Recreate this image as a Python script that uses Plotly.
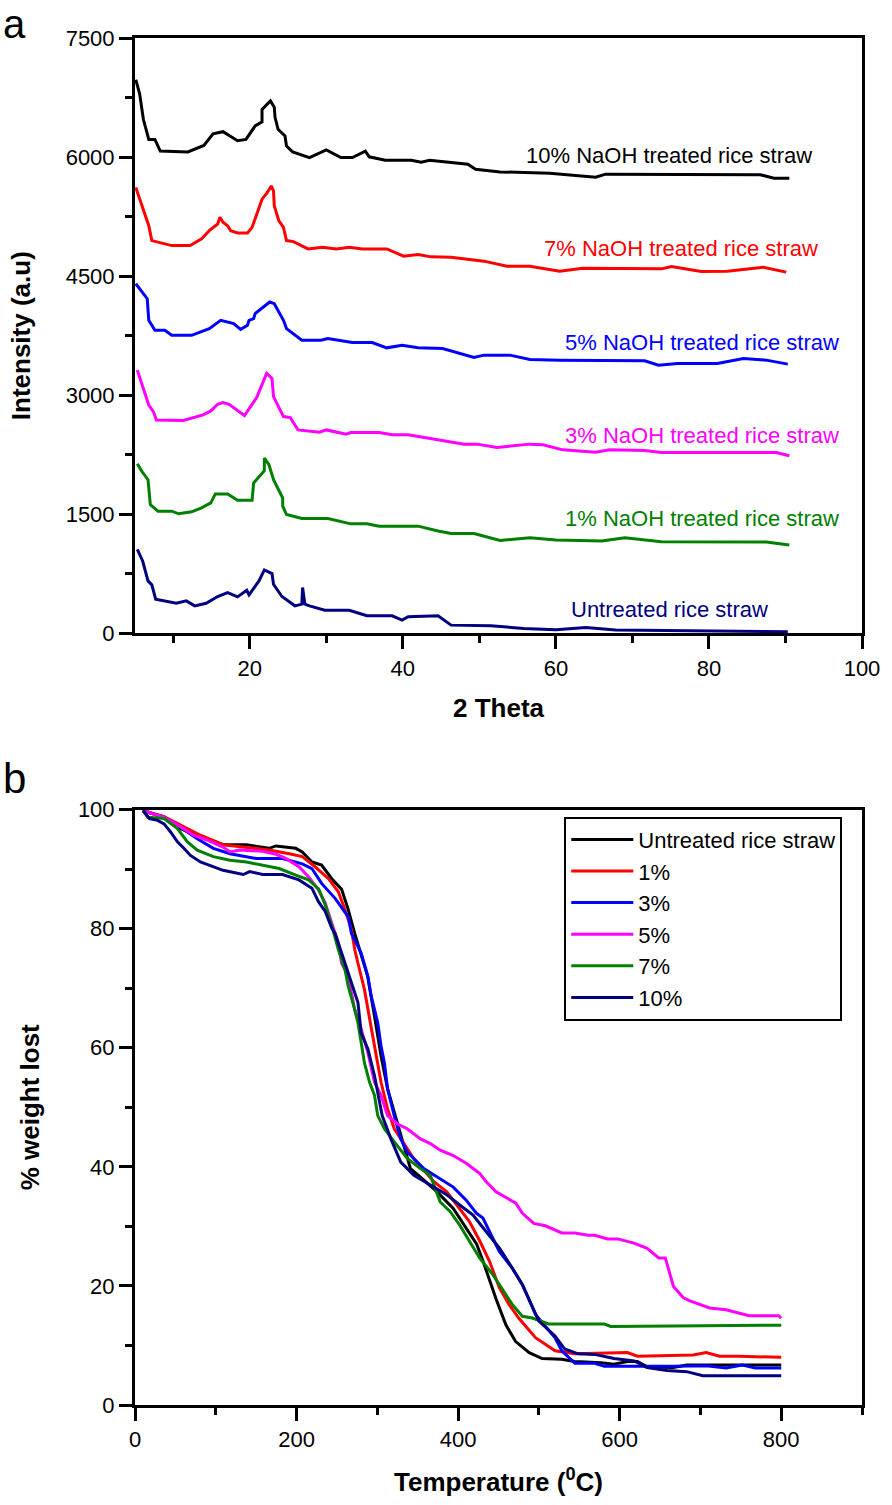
import plotly.graph_objects as go

# ---------------- Panel a: XRD ----------------
xrd_10_x = [5.1, 5.6, 6.1, 6.8, 7.6, 8.3, 11.9, 14.0, 15.2, 16.5, 18.4, 19.5, 20.7, 21.6, 21.6, 22.7, 23.2, 23.3, 23.7, 24.6, 24.8, 25.6, 27.8, 30.0, 31.9, 33.4, 35.1, 35.6, 37.7, 41.1, 42.4, 43.5, 48.5, 49.5, 52.7, 59.2, 65.2, 66.5, 86.7, 88.5, 90.5]
xrd_10_y = [6975, 6800, 6473, 6222, 6222, 6075, 6065, 6146, 6292, 6320, 6205, 6222, 6392, 6443, 6600, 6706, 6627, 6500, 6350, 6265, 6140, 6065, 5994, 6090, 5994, 5994, 6075, 6003, 5960, 5960, 5935, 5960, 5910, 5847, 5813, 5797, 5747, 5785, 5778, 5734, 5734]

xrd_7_x = [5.1, 5.9, 6.8, 7.2, 9.8, 12.2, 13.7, 14.7, 15.8, 16.1, 16.5, 17.1, 17.5, 18.4, 19.7, 20.3, 21.0, 21.6, 22.3, 22.8, 23.1, 23.2, 23.8, 24.4, 24.8, 25.7, 27.6, 29.5, 31.3, 33.0, 34.7, 37.9, 40.1, 42.0, 43.7, 46.3, 50.6, 53.6, 56.6, 60.5, 63.5, 73.8, 75.1, 79.0, 82.4, 87.1, 90.1]
xrd_7_y = [5617, 5386, 5136, 4948, 4885, 4885, 4969, 5073, 5157, 5241, 5178, 5136, 5073, 5044, 5044, 5115, 5304, 5470, 5554, 5637, 5575, 5386, 5198, 5115, 4948, 4935, 4843, 4864, 4843, 4864, 4843, 4843, 4752, 4772, 4743, 4739, 4689, 4626, 4626, 4563, 4601, 4592, 4621, 4558, 4563, 4613, 4551]

xrd_5_x = [5.1, 6.6, 6.8, 7.6, 8.9, 9.8, 12.4, 14.7, 16.2, 17.9, 18.8, 19.7, 19.9, 20.5, 20.7, 21.8, 22.6, 23.2, 24.4, 24.8, 26.8, 29.3, 30.2, 33.4, 36.0, 37.9, 39.9, 42.0, 45.2, 49.3, 50.6, 54.0, 56.6, 60.5, 71.6, 73.4, 75.9, 81.1, 84.5, 87.5, 90.3]
xrd_5_y = [4404, 4216, 3944, 3818, 3818, 3755, 3755, 3839, 3944, 3902, 3830, 3881, 3944, 3965, 4028, 4111, 4174, 4153, 3944, 3839, 3693, 3693, 3714, 3664, 3664, 3597, 3630, 3597, 3589, 3476, 3505, 3505, 3450, 3442, 3434, 3379, 3400, 3400, 3463, 3442, 3392]

xrd_3_x = [5.3, 6.8, 7.4, 7.8, 11.3, 13.9, 14.9, 15.8, 16.5, 17.3, 19.3, 20.9, 22.2, 22.9, 23.1, 24.4, 25.3, 26.3, 29.1, 30.0, 32.6, 33.2, 36.9, 38.6, 40.7, 42.7, 45.0, 48.0, 49.7, 52.3, 56.6, 58.3, 60.9, 65.2, 67.0, 71.6, 73.8, 88.8, 90.5]
xrd_3_y = [3316, 2877, 2794, 2689, 2681, 2752, 2802, 2886, 2907, 2886, 2744, 2970, 3275, 3212, 2982, 2731, 2718, 2563, 2534, 2563, 2509, 2530, 2530, 2501, 2501, 2468, 2438, 2384, 2384, 2342, 2384, 2375, 2312, 2283, 2312, 2304, 2279, 2279, 2237]

xrd_1_x = [5.3, 5.9, 6.7, 7.0, 8.0, 9.8, 10.7, 12.4, 13.7, 14.9, 15.5, 17.1, 18.4, 20.3, 20.5, 21.9, 21.9, 22.5, 23.1, 23.8, 24.3, 24.3, 24.8, 26.8, 30.2, 33.2, 35.3, 36.9, 42.0, 44.6, 46.3, 49.3, 52.7, 56.6, 60.0, 66.0, 69.0, 73.8, 87.5, 90.5]
xrd_1_y = [2137, 2041, 1936, 1622, 1539, 1539, 1506, 1531, 1581, 1644, 1757, 1757, 1677, 1677, 1895, 2049, 2208, 2124, 1936, 1790, 1706, 1602, 1497, 1447, 1447, 1380, 1380, 1351, 1351, 1289, 1259, 1259, 1171, 1205, 1176, 1163, 1205, 1154, 1150, 1113]

xrd_u_x = [5.3, 6.0, 6.7, 7.2, 7.7, 10.4, 11.7, 12.8, 14.3, 15.8, 17.1, 18.4, 19.6, 19.9, 21.2, 21.9, 22.9, 23.1, 24.2, 25.9, 26.8, 26.9, 27.2, 27.8, 29.8, 33.0, 35.3, 38.6, 39.9, 40.7, 44.6, 46.3, 51.5, 55.8, 60.0, 63.9, 67.8, 90.3]
xrd_u_y = [1058, 912, 661, 611, 430, 380, 410, 347, 380, 464, 514, 460, 543, 485, 661, 799, 753, 619, 464, 347, 368, 577, 368, 347, 292, 292, 222, 222, 167, 209, 222, 104, 96, 63, 46, 75, 42, 21]

xrd_labels = ["10% NaOH treated rice straw", "7% NaOH treated rice straw", "5% NaOH treated rice straw",
              "3% NaOH treated rice straw", "1% NaOH treated rice straw", "Untreated rice straw"]
xrd_label_x = [74.8, 76.4, 79.1, 79.1, 79.1, 74.9]
xrd_label_y = [6023, 4843, 3664, 2497, 1443, 305]
xrd_colors = ["#000000", "#FF0000", "#0000FF", "#FF00FF", "#008000", "#000080"]

# ---------------- Panel b: TGA ----------------
tga_u_t = [10, 36, 56.5, 81, 93, 109, 138, 166, 174.5, 199, 207, 219, 231, 243.6, 255.8, 264, 272, 288, 296.5, 304.6, 312.7, 321, 341, 353, 374, 394, 410, 423, 431, 439, 447, 459, 471, 488, 504, 528, 544.6, 577, 593, 609.6, 622, 634, 666.6, 683, 800]
tga_u_w = [99.8, 98.8, 96.8, 95.4, 94.9, 94.1, 94.1, 93.5, 93.9, 93.5, 92.9, 91.2, 90.7, 88.4, 86.6, 83.2, 79.2, 72, 65.3, 58.6, 53.1, 49.2, 39.7, 38.3, 35.8, 33, 29.7, 27, 24.1, 20.8, 17.8, 13.5, 10.7, 8.8, 7.8, 7.7, 7.3, 7.1, 6.85, 7.3, 7.3, 6.4, 6.3, 6.7, 6.7]

tga_1_t = [10, 36, 56.5, 81, 109, 134, 166, 191, 207, 223, 239.5, 251.7, 260, 268, 272, 276, 284, 292, 300.5, 304.6, 312.7, 321, 345, 370, 386, 402, 414, 427, 439, 451, 463, 475, 495.8, 520, 544.6, 609.6, 622, 691, 707, 723.6, 748, 800]
tga_1_w = [99.8, 98.8, 97.4, 95.7, 94.1, 93.7, 93.2, 92.6, 92.1, 90.4, 88.4, 86.2, 83.2, 79.8, 76.5, 74.2, 69.8, 63.7, 57.5, 54.2, 49.7, 46.4, 41.4, 37.5, 35.8, 33, 30.8, 27.5, 24.1, 19.7, 16.9, 14.6, 11.3, 9.1, 8.6, 8.8, 8.2, 8.4, 8.8, 8.2, 8.2, 8.0]

tga_3_t = [10, 36, 52.5, 77, 97, 117.5, 150, 182.6, 207, 219, 231, 247.7, 264, 268, 280, 288.3, 292.4, 300.5, 304.6, 308.7, 312.7, 321, 329, 337, 357.5, 377.8, 394, 410, 422.6, 430.7, 438.8, 451, 467, 479.6, 495.8, 520, 528.4, 544.6, 569, 581, 666.6, 707, 731.7, 752, 768, 800]
tga_3_w = [99.8, 98.7, 97.4, 95.1, 93.5, 92.6, 91.8, 91.8, 90.9, 90.1, 87.6, 85.1, 82, 79.2, 75.9, 72, 68.7, 64.2, 60.3, 57.5, 53.1, 48.5, 44.7, 42.5, 39.7, 38, 36.6, 34.4, 32.2, 31.4, 29.1, 25.8, 23, 20.2, 15.2, 11.3, 9.1, 7, 7, 6.5, 6.5, 6.6, 6.2, 6.7, 6.2, 6.2]

tga_5_t = [10, 36, 56.5, 72.7, 89, 109, 117.5, 129.7, 158, 174.5, 186.7, 203, 215, 227.3, 235.5, 243.6, 251.7, 255.8, 264, 272, 280, 288.3, 296.5, 304.6, 312.7, 325, 337, 353.4, 365.6, 377.8, 394, 410, 426.6, 434.8, 447, 471.5, 479.6, 493.7, 508, 528.4, 544.6, 560.8, 569, 585, 597.5, 617.8, 634, 648.3, 656.5, 666.6, 678.8, 687, 711.4, 731.7, 760.2, 796.8, 800]
tga_5_w = [99.8, 98.7, 97.1, 95.7, 94.9, 93.7, 92.9, 93.2, 93, 92.5, 91.8, 90.4, 88.7, 86.5, 84.3, 80.8, 77.6, 74.2, 72, 66.4, 63.1, 59.2, 54.2, 52, 48.6, 47.2, 46.4, 44.7, 43.9, 42.8, 41.9, 40.6, 38.9, 37.5, 35.8, 33.9, 32.2, 30.5, 30.1, 28.9, 28.9, 28.5, 28.5, 27.9, 27.9, 27.2, 26.3, 24.7, 24.7, 19.9, 18, 17.5, 16.3, 16, 15, 15, 14.6]

tga_7_t = [10, 15.9, 36, 52.5, 64.7, 77, 97, 117.5, 138, 158, 178.5, 199, 215, 227.3, 235.5, 243.6, 251.7, 260, 264, 272, 276, 280, 284, 290.4, 296.5, 300.5, 308.7, 321, 337, 353.4, 365.6, 377.8, 390, 402, 414.4, 426.6, 443, 455, 467, 479.6, 491.8, 512, 581, 589, 800]
tga_7_w = [100, 98.7, 98.5, 96.8, 94.6, 93.2, 92.1, 91.5, 91.2, 90.7, 90.1, 89, 88.2, 86.7, 84, 80.5, 76.5, 73.1, 70.3, 66.4, 64.2, 60.9, 57.5, 54.2, 52, 48.6, 46.4, 44.2, 41.4, 39.7, 38.6, 34.1, 32.5, 30.2, 27.5, 24.7, 21.9, 19.4, 16.9, 14.9, 14.6, 13.6, 13.6, 13.2, 13.4]

tga_10_t = [10, 17.8, 28, 36, 44.3, 52.5, 60.5, 68.7, 81, 97, 109, 134, 142, 158, 182.6, 203, 219, 227.3, 235.5, 243.6, 247.7, 260, 268, 276, 280, 288.3, 296.5, 306, 316.8, 329, 345.3, 365.6, 386, 402, 418.5, 434.8, 451, 467, 479.6, 500, 520, 532, 548.6, 569, 593, 618, 634, 658.5, 683, 703, 800]
tga_10_w = [99.8, 98.5, 98.2, 97.6, 96.2, 94.6, 93.5, 92.3, 91.2, 90.4, 89.8, 89.1, 89.6, 89.1, 89.1, 88.2, 86.8, 84.5, 82.9, 80.1, 79.2, 74.2, 70.9, 67.6, 62.5, 59.8, 55.3, 48.6, 44.7, 40.8, 38.6, 36.9, 35.3, 33.6, 31.9, 29.1, 26.4, 23, 20.2, 14.1, 11.6, 9.4, 8.6, 8.5, 7.8, 7.4, 6.3, 5.8, 5.6, 4.9, 4.9]

tga_names = ["Untreated rice straw", "1%", "3%", "5%", "7%", "10%"]
tga_colors = ["#000000", "#FF0000", "#0000FF", "#FF00FF", "#008000", "#000080"]

FONT = "Liberation Sans, Arial, sans-serif"
LW = 3

fig = go.Figure()

xrd_series = [(xrd_10_x, xrd_10_y), (xrd_7_x, xrd_7_y), (xrd_5_x, xrd_5_y),
              (xrd_3_x, xrd_3_y), (xrd_1_x, xrd_1_y), (xrd_u_x, xrd_u_y)]
for (xs, ys), c, name in zip(xrd_series, xrd_colors, xrd_labels):
    fig.add_trace(go.Scatter(x=xs, y=ys, mode="lines", line=dict(color=c, width=LW),
                             name=name, showlegend=False, xaxis="x", yaxis="y"))

tga_series = [(tga_u_t, tga_u_w), (tga_1_t, tga_1_w), (tga_3_t, tga_3_w),
              (tga_5_t, tga_5_w), (tga_7_t, tga_7_w), (tga_10_t, tga_10_w)]
for (xs, ys), c, name in zip(tga_series, tga_colors, tga_names):
    fig.add_trace(go.Scatter(x=xs, y=ys, mode="lines", line=dict(color=c, width=LW),
                             name=name, xaxis="x2", yaxis="y2"))

annotations = []
for t, x, y, c in zip(xrd_labels, xrd_label_x, xrd_label_y, xrd_colors):
    annotations.append(dict(text=t, x=x, y=y, xref="x", yref="y", showarrow=False,
                            xanchor="center", yanchor="middle",
                            font=dict(family=FONT, size=22, color=c)))
annotations.append(dict(text="a", x=-0.184, y=1411 / 1373, xref="paper", yref="paper", showarrow=False,
                        xanchor="left", yanchor="top", font=dict(family=FONT, size=40, color="black")))
annotations.append(dict(text="b", x=-0.184, y=0.458, xref="paper", yref="paper", showarrow=False,
                        xanchor="left", yanchor="middle", font=dict(family=FONT, size=42, color="black")))

def axis(**kw):
    base = dict(showline=True, linecolor="black", linewidth=3, mirror=True,
                ticks="outside", ticklen=13, tickwidth=2.5, tickcolor="black",
                showgrid=False, zeroline=False,
                tickfont=dict(family=FONT, size=22, color="black"))
    base.update(kw)
    return base

top_lo = (1411 - 636) / 1373
bot_hi = (1411 - 813) / 1373

fig.update_layout(
    width=892, height=1505,
    margin=dict(l=135, r=22, t=38, b=94),
    plot_bgcolor="white", paper_bgcolor="white",
    font=dict(family=FONT, color="black"),
    xaxis=axis(domain=[0, 1], anchor="y", range=[5, 100], tick0=0, dtick=20,
               minor=dict(dtick=10, tick0=0, ticks="outside", ticklen=7, tickwidth=2.5, tickcolor="black"),
               title=dict(text="2 Theta", font=dict(family=FONT, size=26, weight="bold"), standoff=20)),
    yaxis=axis(domain=[top_lo, 1], anchor="x", range=[0, 7500], tick0=0, dtick=1500,
               minor=dict(dtick=750, tick0=0, ticks="outside", ticklen=7, tickwidth=2.5, tickcolor="black"),
               title=dict(text="Intensity (a.u)", font=dict(family=FONT, size=26, weight="bold"), standoff=28)),
    xaxis2=axis(domain=[0, 1], anchor="y2", range=[0, 900], tick0=0, dtick=200,
                minor=dict(dtick=100, tick0=0, ticks="outside", ticklen=7, tickwidth=2.5, tickcolor="black"),
                title=dict(text="Temperature (<sup>0</sup>C)", font=dict(family=FONT, size=26, weight="bold"), standoff=22)),
    yaxis2=axis(domain=[0, bot_hi], anchor="x2", range=[0, 100], tick0=0, dtick=20,
                minor=dict(dtick=10, tick0=0, ticks="outside", ticklen=7, tickwidth=2.5, tickcolor="black"),
                title=dict(text="% weight lost", font=dict(family=FONT, size=26, weight="bold"), standoff=31)),
    legend=dict(x=(569 - 135) / 735, y=(1411 - 820) / 1373, xanchor="left", yanchor="top",
                bgcolor="white", bordercolor="black", borderwidth=2, itemwidth=62,
                font=dict(family=FONT, size=22, color="black"), tracegroupgap=0),
    annotations=annotations,
)

fig.write_html("out.html", config={"displayModeBar": False},
               post_script="document.body.style.margin='0';document.body.style.padding='0';")
